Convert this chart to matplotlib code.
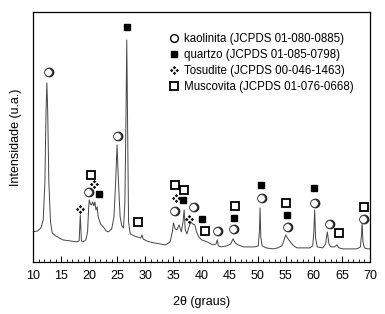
import matplotlib
matplotlib.use("Agg")
import matplotlib.pyplot as plt
from matplotlib.path import Path
from matplotlib.lines import Line2D
from matplotlib.transforms import offset_copy

plt.rcParams["font.family"] = ["Liberation Sans", "DejaVu Sans"]

# XRD pattern (2theta in degrees, intensity in arbitrary units)
two_theta = [10.0, 10.8, 11.4, 11.8, 12.1, 12.3, 12.45, 12.6, 12.8, 13.1, 13.4, 14.0, 15.3, 16.5,
             17.8, 18.2, 18.4, 18.6, 18.9, 19.4, 19.7, 19.9, 20.0, 20.2, 20.4, 20.6, 20.8, 21.0,
             21.2, 21.4, 21.6, 22.0, 22.5, 23.0, 23.4, 24.0, 24.4, 24.7, 24.95, 25.2, 25.5, 25.8,
             26.1, 26.35, 26.55, 26.68, 26.85, 27.0, 27.3, 28.0, 28.5, 29.2, 29.4, 29.6, 30.2, 30.8,
             31.5, 32.6, 33.5, 33.9, 34.4, 34.8, 35.0, 35.3, 35.6, 36.0, 36.4, 36.7, 36.9, 37.1,
             37.4, 37.7, 38.1, 38.4, 38.8, 39.1, 39.5, 40.0, 41.0, 42.0, 42.6, 42.8, 43.0, 43.5,
             44.5, 45.2, 45.6, 46.0, 46.5, 47.5, 48.5, 49.5, 50.1, 50.3, 50.42, 50.55, 50.8, 51.5,
             52.7, 53.6, 54.3, 54.7, 55.0, 55.3, 55.8, 56.4, 57.0, 58.0, 59.3, 59.8, 60.0, 60.15,
             60.3, 60.6, 61.6, 62.1, 62.4, 62.7, 63.0, 63.7, 64.1, 64.5, 65.2, 66.5, 67.7, 68.3,
             68.5, 68.6, 68.75, 69.0, 69.6, 70.0]
intensity = [30, 31, 34, 42, 80, 150, 179, 150, 80, 40, 29, 26, 22, 21,
             20, 21, 47, 21, 20, 22, 30, 55, 62, 58, 57, 60, 56, 60,
             52, 55, 45, 38, 35, 31, 30, 33, 45, 80, 117, 80, 45, 36,
             34, 60, 150, 222, 120, 40, 28, 26, 25, 24, 27, 23, 21, 20,
             19, 18, 17, 18, 20, 30, 39, 33, 32, 37, 30, 40, 52, 32,
             28, 34, 40, 38, 37, 30, 25, 22, 20, 17, 18, 22, 16, 15,
             16, 18, 23, 19, 17, 15, 15, 15, 16, 30, 54, 25, 16, 14,
             13, 14, 16, 22, 27, 24, 20, 16, 14, 14, 14, 16, 30, 52,
             24, 15, 14, 18, 30, 18, 15, 15, 17, 14, 13, 13, 13, 15,
             28, 39, 20, 14, 13, 13]

# phase markers (2theta, height)
kaol_x = [12.67, 24.95, 19.8, 35.1, 38.5, 42.8, 45.6, 50.6, 55.2, 60.0, 62.7, 68.75]
kaol_y = [190, 126, 70, 51, 55, 31, 33, 64, 35, 59, 38, 43]
quartz_x = [26.7, 21.75, 36.7, 40.1, 45.8, 50.6, 55.2, 60.0]
quartz_y = [235, 68, 62, 43, 44, 77, 47, 74]
tosud_x = [18.4, 20.9, 35.5, 37.8]
tosud_y = [53, 78, 64, 43]
musc_x = [20.3, 28.7, 35.3, 36.9, 40.6, 46.0, 55.0, 64.5, 68.9]
musc_y = [87, 40, 77, 72, 31, 56, 59, 29, 55]

labels = ["kaolinita (JCPDS 01-080-0885)", "quartzo (JCPDS 01-085-0798)",
          "Tosudite (JCPDS 00-046-1463)", "Muscovita (JCPDS 01-076-0668)"]

# four-diamond marker for tosudite
verts, codes = [], []
h = 0.34
for cx, cy in [(0, 0.55), (0.55, 0), (0, -0.55), (-0.55, 0)]:
    verts += [(cx, cy + h), (cx + h, cy), (cx, cy - h), (cx - h, cy), (cx, cy + h)]
    codes += [Path.MOVETO, Path.LINETO, Path.LINETO, Path.LINETO, Path.CLOSEPOLY]
tosud_marker = Path(verts, codes)

fig = plt.figure(figsize=(3.85, 3.14), dpi=100)
ax = fig.add_axes([0.086, 0.166, 0.875, 0.796])

ax.plot(two_theta, intensity, color="#444444", lw=0.7)

# shaded circles: dark shadow behind a white disc
shadow = offset_copy(ax.transData, fig=fig, x=0.7, y=-0.5, units="dots")
ax.plot(kaol_x, kaol_y, "o", ms=6.0, mfc="#222222", mec="#222222", transform=shadow, zorder=3)
ax.plot(kaol_x, kaol_y, "o", ms=5.6, mfc="white", mec="#333333", mew=0.6, zorder=4)
ax.plot(quartz_x, quartz_y, "s", ms=4.6, color="black", zorder=4)
ax.plot(tosud_x, tosud_y, ls="none", marker=tosud_marker, ms=6.5, mew=0, color="black", zorder=4)
ax.plot(musc_x, musc_y, "s", ms=6, mfc="white", mec="black", mew=1.3, zorder=4)

handles = [
    Line2D([], [], ls="none", marker="o", ms=5.6, mfc="white", mec="black", mew=1.0),
    Line2D([], [], ls="none", marker="s", ms=4.6, color="black"),
    Line2D([], [], ls="none", marker=tosud_marker, ms=6.5, mew=0, color="black"),
    Line2D([], [], ls="none", marker="s", ms=6, mfc="white", mec="black", mew=1.3),
]
ax.legend(handles, labels, loc="upper right", frameon=False, fontsize=8.3,
          handlelength=0.7, handletextpad=0.45, labelspacing=0.33,
          borderaxespad=0.0, borderpad=0.0, bbox_to_anchor=(0.95, 0.915))

ax.set_xlim(10, 70)
ax.set_ylim(0, 250)
ax.set_xticks(range(10, 71, 5))
ax.set_xticks(range(10, 71, 1), minor=True)
ax.set_yticks([])
ax.tick_params(axis="x", which="major", direction="in", length=4, width=0.7, labelsize=9, pad=6)
ax.tick_params(axis="x", which="minor", direction="in", length=2.5, width=0.6)
for s in ax.spines.values():
    s.set_linewidth(0.9)

ax.set_xlabel("2θ (graus)", fontsize=9, labelpad=10)
ax.set_ylabel("Intensidade (u.a.)", fontsize=9, labelpad=8)

fig.savefig("out.png", dpi=100)
